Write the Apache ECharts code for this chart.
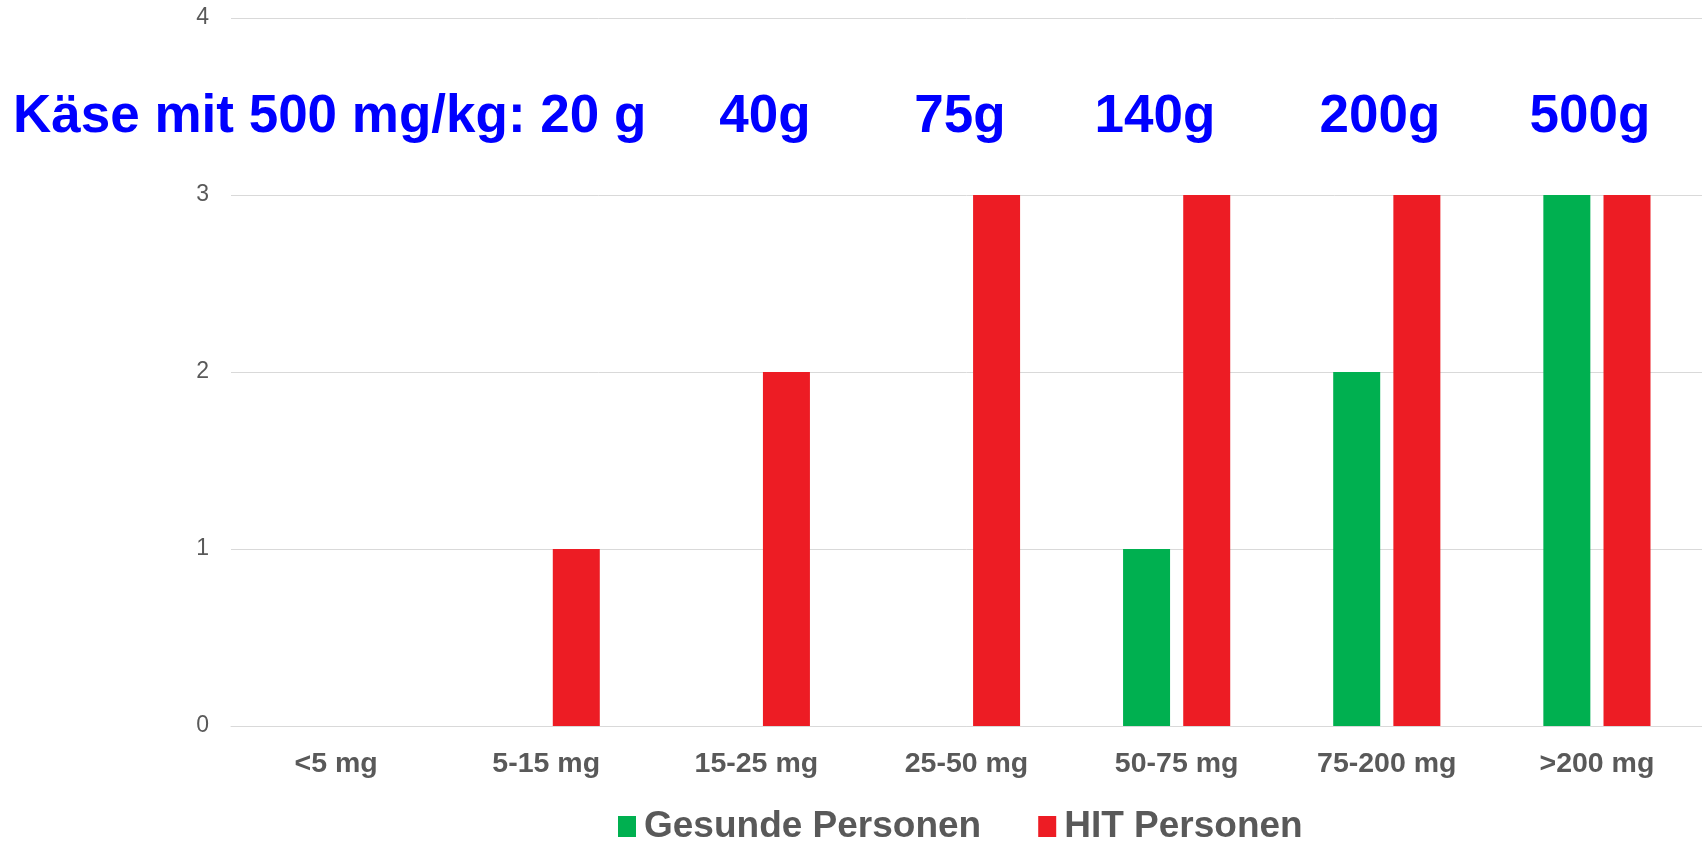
<!DOCTYPE html>
<html>
<head>
<meta charset="utf-8">
<style>
  html, body { margin: 0; padding: 0; background: #ffffff; }
  #chart { width: 1702px; height: 841px; }
</style>
<script src="https://cdn.jsdelivr.net/npm/echarts@6/dist/echarts.min.js"></script>
</head>
<body>
<div id="chart"></div>
<script>
// Histamine dose ranges and number of persons reacting
const categories = ['<5 mg', '5-15 mg', '15-25 mg', '25-50 mg', '50-75 mg', '75-200 mg', '>200 mg'];
const gesunde = [0, 0, 0, 0, 1, 2, 3];
const hit = [0, 1, 2, 3, 3, 3, 3];
const seriesNames = ['Gesunde Personen', 'HIT Personen'];

// Cheese amounts corresponding to the dose ranges (500 mg/kg)
const cheeseTexts = ['Käse mit 500 mg/kg: 20 g', '40g', '75g', '140g', '200g', '500g'];
const cheeseX = [13, 765, 960, 1155, 1380, 1590];

const FONT = "'Liberation Sans', Arial, sans-serif";
const GRAY = '#595959';

const chart = echarts.init(document.getElementById('chart'), null, { renderer: 'canvas' });

// Blue annotation row above the bars
const graphics = cheeseTexts.map((t, i) => ({
  type: 'text',
  x: cheeseX[i],
  y: 117,
  style: {
    text: t,
    fill: '#0000FF',
    font: 'bold 53px ' + FONT,
    textAlign: i === 0 ? 'left' : 'center',
    textVerticalAlign: 'middle'
  }
}));

chart.setOption({
  animation: false,
  backgroundColor: '#ffffff',
  grid: { left: 231, right: 0, top: 18, bottom: 115, containLabel: false },
  legend: {
    data: seriesNames,
    left: 613,
    top: 803,
    itemWidth: 18,
    itemHeight: 21,
    itemGap: 57,
    icon: 'rect',
    textStyle: { color: GRAY, fontFamily: FONT, fontWeight: 'bold', fontSize: 37, padding: [0, 0, 0, 3] }
  },
  xAxis: {
    type: 'category',
    data: categories,
    axisLine: { show: true, lineStyle: { color: '#D9D9D9', width: 1 } },
    axisTick: { show: false },
    axisLabel: { color: GRAY, fontFamily: FONT, fontWeight: 'bold', fontSize: 28.5, margin: 24 }
  },
  yAxis: {
    type: 'value',
    min: 0,
    max: 4,
    interval: 1,
    axisLine: { show: false },
    axisTick: { show: false },
    splitLine: { lineStyle: { color: '#D9D9D9', width: 1 } },
    axisLabel: { color: GRAY, fontFamily: FONT, fontSize: 23, margin: 22 }
  },
  series: [
    {
      name: seriesNames[0],
      type: 'bar',
      data: gesunde,
      barWidth: 47,
      barGap: '28%',
      itemStyle: { color: '#00B050' }
    },
    {
      name: seriesNames[1],
      type: 'bar',
      data: hit,
      barWidth: 47,
      barGap: '28%',
      itemStyle: { color: '#ED1C24' }
    }
  ],
  graphic: graphics
});
</script>
</body>
</html>
